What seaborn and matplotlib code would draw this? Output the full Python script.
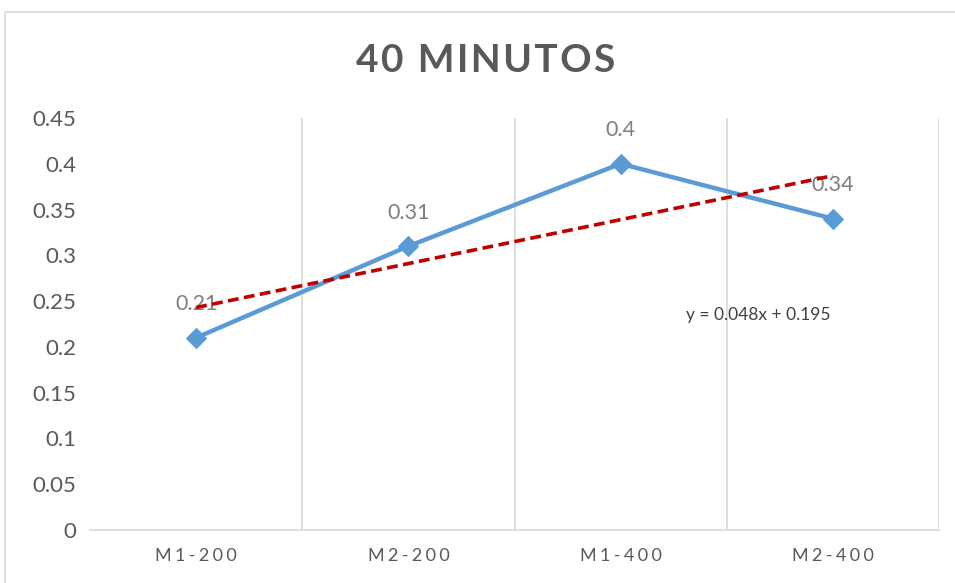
import numpy as np
import pandas as pd
import matplotlib
matplotlib.use('Agg')
import matplotlib.pyplot as plt
import matplotlib.patches as mpatches
import seaborn as sns

# data
categories = ["M1-200", "M2-200", "M1-400", "M2-400"]
values = [0.21, 0.31, 0.40, 0.34]
value_labels = ["0.21", "0.31", "0.4", "0.34"]
y_ticks = [0, 0.05, 0.1, 0.15, 0.2, 0.25, 0.3, 0.35, 0.4, 0.45]
y_tick_labels = ["0", "0.05", "0.1", "0.15", "0.2", "0.25", "0.3", "0.35", "0.4", "0.45"]
title = "40 MINUTOS"

sns.set_theme(style="white")
plt.rcParams['font.family'] = ['Lato', 'DejaVu Sans']

GREY = "#595959"
BLUE = "#5B9BD5"
RED = "#C00000"


def spaced(s, sep="\u2009"):
    # Excel-like character spacing
    return sep.join(s)


df = pd.DataFrame({"cat": categories, "val": values})
df["pos"] = np.arange(len(categories))

fig = plt.figure(figsize=(9.55, 5.83), dpi=100)
ax = fig.add_axes([90 / 955, 1 - 530 / 583, (939 - 90) / 955, (530 - 118) / 583])

# chart border
fig.patches.append(mpatches.Rectangle((5 / 955, -0.1), 1.2, 1 - 12 / 583 + 0.1,
                                      transform=fig.transFigure, fill=False,
                                      edgecolor="#D9D9D9", linewidth=1.2))

sns.lineplot(data=df, x="pos", y="val", ax=ax, color=BLUE, linewidth=3.2,
             marker="D", markersize=10, markeredgecolor=BLUE, zorder=3)

# linear trendline (Excel numbers x = 1..n)
xs = np.arange(1, len(values) + 1)
slope, intercept = np.polyfit(xs, values, 1)
ax.plot(df["pos"], slope * xs + intercept, color=RED, linestyle=(0, (3, 1.5)),
        linewidth=2.6, zorder=4)
ax.text(2.65, 0.235, f"y = {slope:.3f}x + {intercept:.3f}", fontsize=12.5,
        color="#404040", ha="center", va="center")

for p, v, lab in zip(df["pos"], values, value_labels):
    ax.annotate(lab, (p, v), xytext=(0, 17), textcoords="offset points",
                ha="center", va="bottom", fontsize=15.5, color="#7F7F7F")

ax.set_xlim(-0.5, len(categories) - 0.5)
ax.set_ylim(0, 0.45)
ax.set_yticks(y_ticks)
ax.set_yticklabels(y_tick_labels, fontsize=16, color=GREY)
ax.set_xticks(df["pos"])
ax.set_xticklabels([spaced(c, "\u2009\u200a") for c in categories], fontsize=13, color=GREY)
ax.tick_params(axis="both", length=0)
ax.tick_params(axis="x", pad=13)
ax.tick_params(axis="y", pad=10)
ax.set_xlabel("")
ax.set_ylabel("")

# vertical gridlines between categories
for b in np.arange(0.5, len(categories), 1.0):
    ax.axvline(b, color="#D9D9D9", linewidth=1.2, zorder=0)

for side in ["top", "right", "left"]:
    ax.spines[side].set_visible(False)
ax.spines["bottom"].set_color("#D9D9D9")
ax.spines["bottom"].set_linewidth(1.2)

fig.text((358 + 613) / 2 / 955, 1 - 60 / 583, spaced(title, "\u200a"), ha="center", va="center",
         fontsize=28, fontweight="bold", color=GREY)

fig.savefig("out.png", dpi=100)
plt.close(fig)
